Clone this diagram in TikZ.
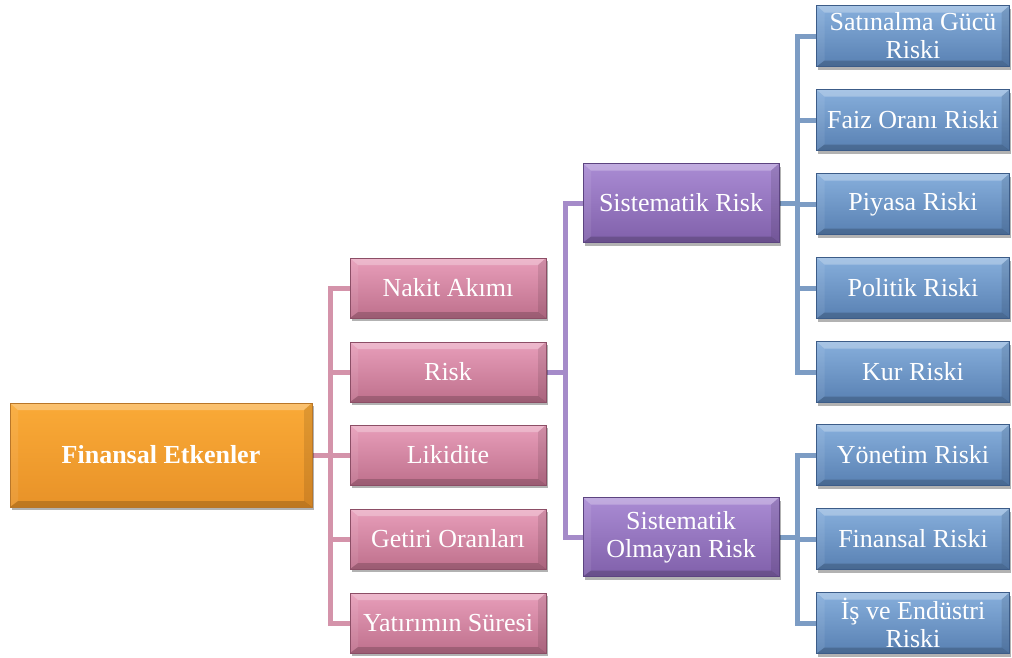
\documentclass[tikz,border=0pt]{standalone}
\usepackage{fontspec}
\setmainfont{Liberation Serif}
\usetikzlibrary{shadows,backgrounds}
\definecolor{orTop}{RGB}{250,170,55}
\definecolor{orBot}{RGB}{232,146,40}
\definecolor{orDark}{RGB}{185,118,40}
\definecolor{pkTop}{RGB}{232,158,186}
\definecolor{pkBot}{RGB}{190,112,140}
\definecolor{pkDark}{RGB}{140,78,102}
\definecolor{puTop}{RGB}{170,140,212}
\definecolor{puBot}{RGB}{128,96,170}
\definecolor{puDark}{RGB}{92,68,128}
\definecolor{blTop}{RGB}{135,175,220}
\definecolor{blBot}{RGB}{88,128,178}
\definecolor{blDark}{RGB}{60,92,136}
\definecolor{pkLine}{RGB}{212,147,170}
\definecolor{puLine}{RGB}{165,139,201}
\definecolor{blLine}{RGB}{124,156,196}
\newcommand\mybevel{%
  \fill[white,opacity=0.28] (path picture bounding box.north west) -- (path picture bounding box.north east)
    -- ([shift={(-8pt,-7pt)}]path picture bounding box.north east) -- ([shift={(8pt,-7pt)}]path picture bounding box.north west) -- cycle;
  \fill[black,opacity=0.18] (path picture bounding box.south west) -- (path picture bounding box.south east)
    -- ([shift={(-8pt,6pt)}]path picture bounding box.south east) -- ([shift={(8pt,6pt)}]path picture bounding box.south west) -- cycle;
  \fill[black,opacity=0.10] (path picture bounding box.north east) -- (path picture bounding box.south east)
    -- ([shift={(-8pt,6pt)}]path picture bounding box.south east) -- ([shift={(-8pt,-7pt)}]path picture bounding box.north east) -- cycle;
  \fill[white,opacity=0.08] (path picture bounding box.north west) -- (path picture bounding box.south west)
    -- ([shift={(8pt,6pt)}]path picture bounding box.south west) -- ([shift={(8pt,-7pt)}]path picture bounding box.north west) -- cycle;
}
\tikzset{
  box/.style={draw, line width=0.8pt, inner sep=0pt, align=center, text=white,
    font=\fontsize{26}{28}\selectfont,
    drop shadow={shadow xshift=1.5pt, shadow yshift=-3pt, opacity=0.3, fill=black},
    path picture={\mybevel}},
  rootbox/.style={box, minimum width=302pt, minimum height=104pt,
    top color=orTop, bottom color=orBot, draw=orDark, font=\fontsize{26}{28}\selectfont\bfseries},
  pinkbox/.style={box, minimum width=196pt, minimum height=60pt,
    top color=pkTop, bottom color=pkBot, draw=pkDark},
  purplebox/.style={box, minimum width=196pt, minimum height=79pt,
    top color=puTop, bottom color=puBot, draw=puDark},
  bluebox/.style={box, minimum width=193pt, minimum height=61pt,
    top color=blTop, bottom color=blBot, draw=blDark},
  conn/.style={line width=5pt, line join=miter},
  pinkconn/.style={conn, draw=pkLine},
  purpleconn/.style={conn, draw=puLine},
  blueconn/.style={conn, draw=blLine}
}
\begin{document}
\begin{tikzpicture}[x=1pt, y=-1pt]
\useasboundingbox (0,0) rectangle (1012,657);
% root
\node[rootbox] (root) at (161,455) {Finansal Etkenler};
% pink column
\node[pinkbox] (nakit) at (448,288) {Nakit Akımı};
\node[pinkbox] (risk) at (448,372) {Risk};
\node[pinkbox] (likit) at (448,455) {Likidite};
\node[pinkbox] (getiri) at (448,539) {Getiri Oranları};
\node[pinkbox] (sure) at (448,623) {Yatırımın Süresi};
% purple column
\node[purplebox] (sis) at (681,203) {Sistematik Risk};
\node[purplebox] (sor) at (681,537) {Sistematik\\Olmayan Risk};
% blue column
\node[bluebox] (satin) at (913,36) {Satınalma Gücü\\Riski};
\node[bluebox] (faiz) at (913,120) {Faiz Oranı Riski};
\node[bluebox] (piyasa) at (913,204) {Piyasa Riski};
\node[bluebox] (politik) at (913,288) {Politik Riski};
\node[bluebox] (kur) at (913,372) {Kur Riski};
\node[bluebox] (yonetim) at (913,455) {Yönetim Riski};
\node[bluebox] (finans) at (913,539) {Finansal Riski};
\node[bluebox] (is) at (913,623) {İş ve Endüstri\\Riski};
% trunk coordinates
\coordinate (t1) at (330,0);
\coordinate (t2) at (565,0);
\coordinate (t3) at (797,0);
\begin{scope}[on background layer]
\foreach \c in {nakit,risk,likit,getiri,sure}
  \draw[pinkconn] (root.east) -- (root.east -| t1) |- (\c.west);
\foreach \c in {sis,sor}
  \draw[purpleconn] (risk.east) -- (risk.east -| t2) |- (\c.west);
\foreach \c in {satin,faiz,piyasa,politik,kur}
  \draw[blueconn] (sis.east) -- (sis.east -| t3) |- (\c.west);
\foreach \c in {yonetim,finans,is}
  \draw[blueconn] (sor.east) -- (sor.east -| t3) |- (\c.west);
\end{scope}
\end{tikzpicture}
\end{document}
